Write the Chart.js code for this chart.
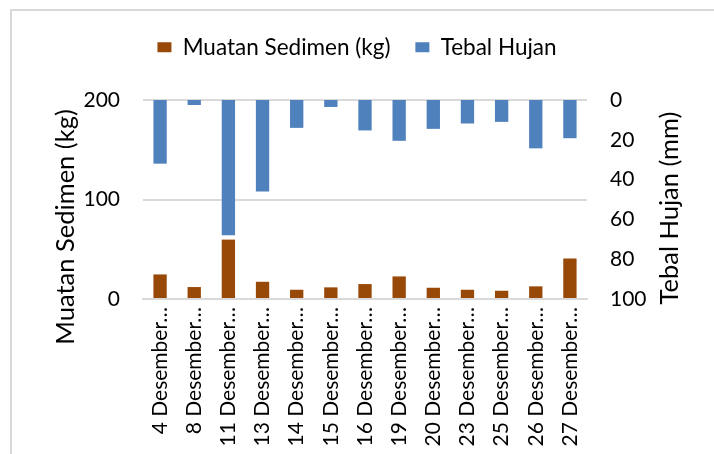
<!DOCTYPE html>
<html>
<head>
<meta charset="utf-8">
<script src="https://cdn.jsdelivr.net/npm/chart.js@4.4.1/dist/chart.umd.min.js"></script>
<style>
    html, body { margin: 0; padding: 0; background: #fff; overflow: hidden; }
    #wrap { position: relative; width: 714px; height: 454px; }
    #frame { position: absolute; left: 10px; top: 9px; width: 720px; height: 460px; border: 2px solid #d9d9d9; box-sizing: border-box; }
    canvas { position: absolute; left: 0; top: 0; }
</style>
</head>
<body>
<div id="wrap">
    <div id="frame"></div>
    <canvas id="chart" width="714" height="454"></canvas>
</div>
<script>
// Data
const categories = ['4 Desember…', '8 Desember…', '11 Desember…', '13 Desember…', '14 Desember…',
    '15 Desember…', '16 Desember…', '19 Desember…', '20 Desember…', '23 Desember…',
    '25 Desember…', '26 Desember…', '27 Desember…'];
const sedimenKg = [24.7, 12, 59.7, 17.3, 9.3, 11.7, 15, 22.7, 11.3, 9.3, 8.3, 12.7, 40.7];
const hujanMm = [32, 2.5, 68, 46, 14, 3.5, 15.3, 20.5, 14.5, 11.8, 11, 24.3, 19.2];
const leftTicks = [0, 100, 200];
const rightTicks = [0, 20, 40, 60, 80, 100];

const FONT = 'Lato';

// Axis titles drawn by hand so both read bottom-to-top
const axisTitles = {
    id: 'axisTitles',
    afterDraw: (chart) => {
        const ctx = chart.ctx;
        ctx.save();
        ctx.fillStyle = '#000';
        ctx.font = '25.5px ' + FONT;
        ctx.textAlign = 'center';
        ctx.textBaseline = 'middle';
        [['Muatan Sedimen (kg)', 66, 227], ['Tebal Hujan (mm)', 670, 208]].forEach(([text, x, y]) => {
            ctx.save();
            ctx.translate(x, y);
            ctx.rotate(-Math.PI / 2);
            ctx.fillText(text, 0, 0);
            ctx.restore();
        });
        ctx.restore();
    }
};

// Fix the legend height so the plot area starts where it does in the reference
const legendHeight = {
    id: 'legendHeight',
    beforeUpdate: (chart) => {
        const legend = chart.legend;
        if (legend && !legend._fixedFit) {
            const origFit = legend.fit.bind(legend);
            legend.fit = function () {
                origFit();
                this.height = 89;
            };
            legend._fixedFit = true;
        }
    }
};

const initChart = () => {
    const ctx = document.getElementById('chart').getContext('2d');

    new Chart(ctx, {
        type: 'bar',
        data: {
            labels: categories,
            datasets: [
                {
                    label: 'Muatan Sedimen (kg)',
                    data: sedimenKg,
                    backgroundColor: '#984807',
                    yAxisID: 'y'
                },
                {
                    label: 'Tebal Hujan',
                    data: hujanMm,
                    backgroundColor: '#4f81bd',
                    yAxisID: 'y1'
                }
            ]
        },
        options: {
            responsive: false,
            animation: false,
            devicePixelRatio: 1,
            layout: { padding: { top: 11, left: 0, right: 0, bottom: 0 } },
            datasets: {
                bar: { grouped: false, barPercentage: 0.39, categoryPercentage: 1 }
            },
            plugins: {
                legend: {
                    position: 'top',
                    labels: {
                        color: '#000',
                        font: { family: FONT, size: 22.5 },
                        boxWidth: 14,
                        boxHeight: 10,
                        padding: 25
                    }
                },
                tooltip: { enabled: false }
            },
            scales: {
                x: {
                    grid: { display: false, drawTicks: false },
                    border: { color: '#d9d9d9', width: 2 },
                    ticks: {
                        color: '#000',
                        font: { family: FONT, size: 21 },
                        autoSkip: false,
                        minRotation: 90,
                        maxRotation: 90,
                        padding: 8
                    },
                    afterFit: (scale) => { scale.height = 155; }
                },
                y: {
                    position: 'left',
                    min: 0,
                    max: 200,
                    afterBuildTicks: (scale) => { scale.ticks = leftTicks.map(v => ({ value: v })); },
                    grid: { color: '#d9d9d9', lineWidth: 2, drawTicks: false },
                    border: { display: false },
                    ticks: {
                        color: '#000',
                        font: { family: FONT, size: 21 },
                        padding: 23
                    },
                    afterFit: (scale) => { scale.width = 143; }
                },
                y1: {
                    position: 'right',
                    reverse: true,
                    min: 0,
                    max: 100,
                    afterBuildTicks: (scale) => { scale.ticks = rightTicks.map(v => ({ value: v })); },
                    grid: { display: false, drawTicks: false },
                    border: { display: false },
                    ticks: {
                        color: '#000',
                        font: { family: FONT, size: 21 },
                        padding: 23
                    },
                    afterFit: (scale) => { scale.width = 127; }
                }
            }
        },
        plugins: [legendHeight, axisTitles]
    });
};

document.addEventListener('DOMContentLoaded', initChart);
</script>
</body>
</html>
